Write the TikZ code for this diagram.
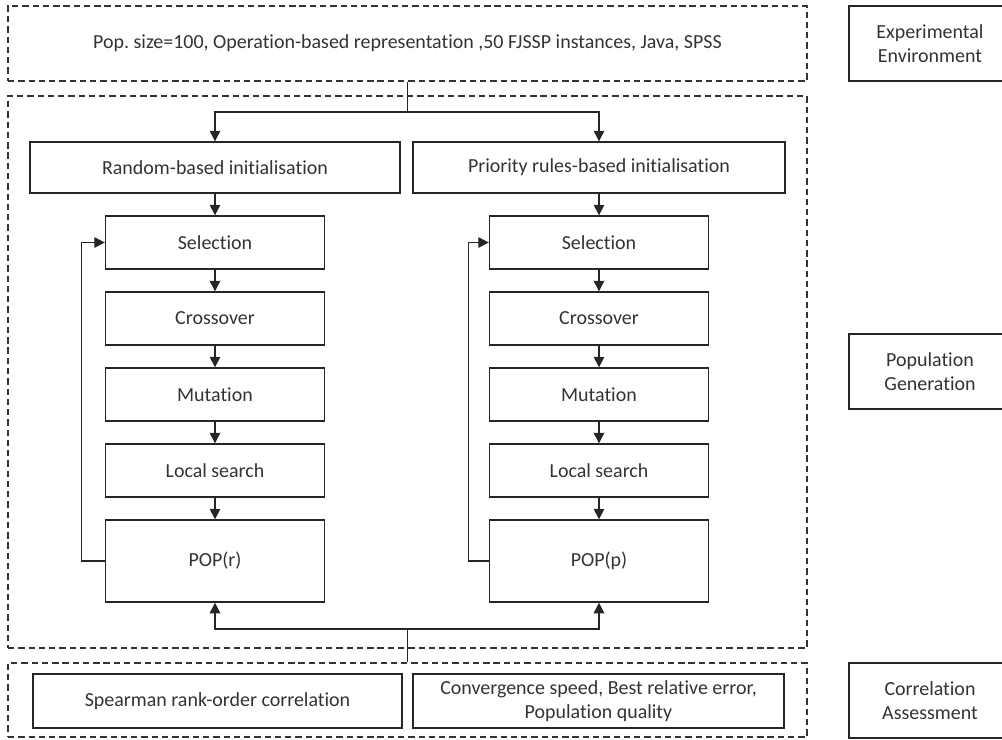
\documentclass[tikz,border=0pt]{standalone}
\usepackage{fontspec}
\setmainfont{Carlito}[RawFeature=-liga]
\usetikzlibrary{arrows.meta,positioning}
\frenchspacing

\begin{document}
\begin{tikzpicture}[
  node distance=0.54cm,
  every node/.style={font=\fontsize{14.2}{17}\selectfont, text=black!80},
  group/.style={rectangle, draw=black!80, line width=0.9pt, dash pattern=on 4.5pt off 2.8pt, minimum width=19.975cm},
  initbox/.style={rectangle, draw=black!85, line width=1pt, minimum width=9.25cm, minimum height=1.275cm},
  stepbox/.style={rectangle, draw=black!85, line width=1pt, minimum width=5.475cm, minimum height=1.325cm},
  popbox/.style={stepbox, minimum height=2.05cm},
  evalbox/.style={rectangle, draw=black!85, line width=1pt, minimum height=1.35cm, align=center},
  phase/.style={rectangle, draw=black!85, line width=1pt, minimum width=4.05cm, minimum height=1.875cm, align=center},
  wire/.style={line width=0.9pt, draw=black!85},
  arr/.style={wire, -{Triangle[length=7.5pt,width=7.5pt]}}
]
\useasboundingbox (0,0) rectangle (25.05,-18.5);
\clip (0,0) rectangle (25.05,-18.5);

% Dashed groups
\node[group, minimum height=1.875cm] (envbox) at (10.1875,-1.0875)
  {Pop. size=100, Operation-based representation ,50 FJSSP instances, Java, SPSS};
\node[group, minimum height=13.8cm] (genbox) at (10.1875,-9.3) {};
\node[group, minimum height=1.85cm] (assessbox) at (10.1875,-17.5) {};

% Phase labels on the right
\node[phase] (envlabel) at (23.25,-1.0875) {Experimental\\Environment};
\node[phase] (genlabel) at (23.25,-9.2875) {Population\\Generation};
\node[phase] (assesslabel) at (23.25,-17.5125) {Correlation\\Assessment};

% Left column: random initialisation
\node[initbox] (randinit) at (5.375,-4.1875) {Random-based initialisation};
\node[stepbox, below=of randinit] (selr) {Selection};
\node[stepbox, below=of selr] (crossr) {Crossover};
\node[stepbox, below=of crossr] (mutr) {Mutation};
\node[stepbox, below=of mutr] (lsr) {Local search};
\node[popbox, below=of lsr] (popr) {POP(r)};

% Right column: priority rules initialisation
\node[initbox, minimum width=9.3cm] (prioinit) at (14.975,-4.1875) {Priority rules-based initialisation};
\node[stepbox, below=of prioinit] (selp) {Selection};
\node[stepbox, below=of selp] (crossp) {Crossover};
\node[stepbox, below=of crossp] (mutp) {Mutation};
\node[stepbox, below=of mutp] (lsp) {Local search};
\node[popbox, below=of lsp] (popp) {POP(p)};

% Assessment
\node[evalbox, minimum width=9.225cm] (spearman) at (5.4375,-17.525) {Spearman rank-order correlation};
\node[evalbox, minimum width=9.275cm] (metrics) at (14.9625,-17.525) {Convergence speed, Best relative error,\\Population quality};

% Split from the environment
\coordinate (topfork) at (10.1875,-2.8);
\draw[wire] (envbox.south) -- (topfork);
\draw[arr] (topfork) -| (randinit);
\draw[arr] (topfork) -| (prioinit);

% GA steps
\draw[arr] (randinit) -- (selr);
\draw[arr] (selr) -- (crossr);
\draw[arr] (crossr) -- (mutr);
\draw[arr] (mutr) -- (lsr);
\draw[arr] (lsr) -- (popr);
\draw[arr] (prioinit) -- (selp);
\draw[arr] (selp) -- (crossp);
\draw[arr] (crossp) -- (mutp);
\draw[arr] (mutp) -- (lsp);
\draw[arr] (lsp) -- (popp);

% Loops back to selection
\draw[arr] (popr.west) -- ++(-0.575,0) |- (selr.west);
\draw[arr] (popp.west) -- ++(-0.5,0) |- (selp.west);

% Populations to assessment
\coordinate (botfork) at (10.1875,-15.725);
\draw[wire] (assessbox.north) -- (botfork);
\draw[arr] (botfork) -| (popr);
\draw[arr] (botfork) -| (popp);

\end{tikzpicture}
\end{document}
